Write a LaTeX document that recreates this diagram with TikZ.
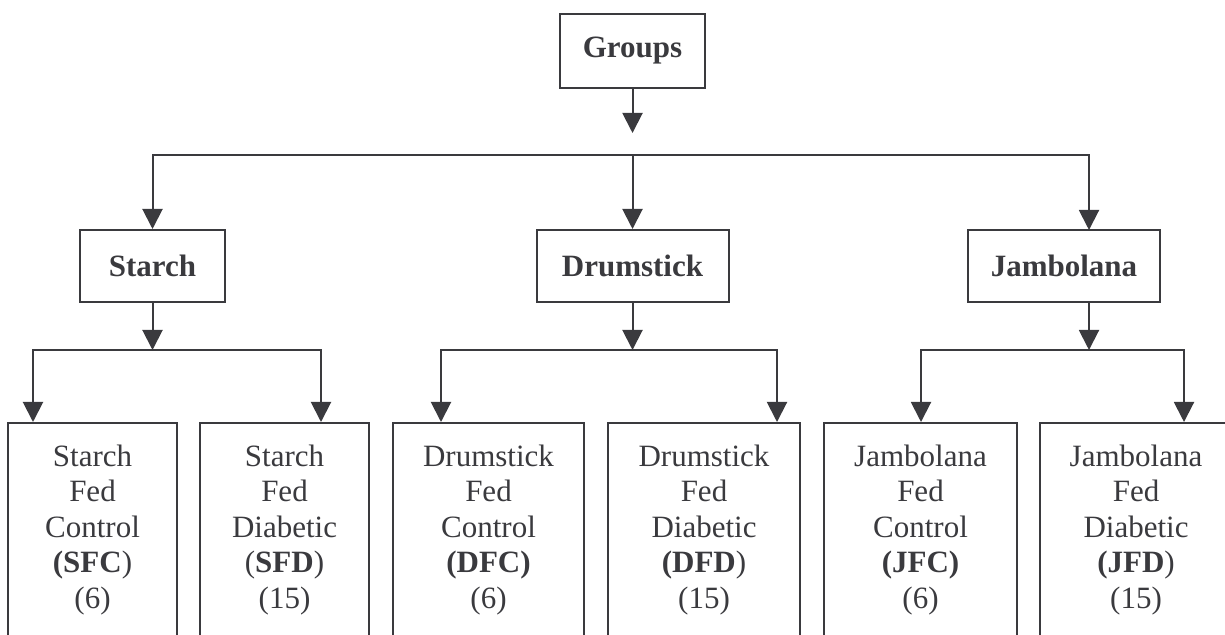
\documentclass[tikz,border=0pt]{standalone}
\usepackage{fontspec}
\setmainfont{Liberation Serif}
\usetikzlibrary{calc}
\usetikzlibrary{arrows.meta}
\definecolor{linegray}{RGB}{58,58,62}
\tikzstyle{groupbox}=[draw=linegray,line width=1pt,text=linegray,font=\fontsize{15.5}{18}\selectfont\bfseries,minimum height=36pt]
\tikzstyle{leafbox}=[draw=linegray,line width=1pt,text=linegray,align=center,anchor=north,minimum height=107pt,font=\fontsize{15.5}{17.75}\selectfont]
\tikzstyle{assign}=[-{Triangle[length=10pt,width=10pt]},draw=linegray,line width=1pt]
\tikzstyle{busline}=[draw=linegray,line width=1pt]
\newcommand{\branch}[3]{% Syntax: {bus point}{left end}{right end}
    \draw[assign] (#1) -| (#2);
    \draw[assign] (#1) -| (#3);
}

\begin{document}
\begin{tikzpicture}[x=0.5pt,y=-0.5pt]
  \useasboundingbox (0,0) rectangle (1225,635);
  \clip (0,0) rectangle (1225,635);
  % top level
  \node[groupbox,minimum width=72.5pt,minimum height=37pt] (groups) at (632.5,51) {Groups};
  \node[groupbox,minimum width=72.5pt] (starch) at (152.5,266) {Starch};
  \node[groupbox,minimum width=96pt] (drumstick) at (632.5,266) {Drumstick};
  \node[groupbox,minimum width=96pt] (jambolana) at (1064,266) {Jambolana};
  % leaves
  \node[leafbox,minimum width=84.5pt] (sfc) at (92.5,422) {Starch\\Fed\\Control\\\textbf{(SFC})\\(6)};
  \node[leafbox,minimum width=84.5pt] (sfd) at (284.5,422) {Starch\\Fed\\Diabetic\\(\textbf{SFD})\\(15)};
  \node[leafbox,minimum width=95.5pt] (dfc) at (488.5,422) {Drumstick\\Fed\\Control\\\textbf{(DFC)}\\(6)};
  \node[leafbox,minimum width=96pt] (dfd) at (704,422) {Drumstick\\Fed\\Diabetic\\\textbf{(DFD})\\(15)};
  \node[leafbox,minimum width=96.5pt] (jfc) at (920.5,422) {Jambolana\\Fed\\Control\\\textbf{(JFC)}\\(6)};
  \node[leafbox,minimum width=96pt] (jfd) at (1136,422) {Jambolana\\Fed\\Diabetic\\\textbf{(JFD})\\(15)};
  % bus points and arrow ends
  \coordinate (gtip) at (632.5,133);
  \coordinate (gbus) at (632.5,155);
  \coordinate (jtop) at (1089,230);
  \coordinate (jout) at (1089,302);
  \coordinate (sbus) at (152.5,350);
  \coordinate (dbus) at (632.5,350);
  \coordinate (jbus) at (1089,350);
  \coordinate (sfc in) at (33,422);
  \coordinate (sfd in) at (321,422);
  \coordinate (dfc in) at (441,422);
  \coordinate (dfd in) at (777,422);
  \coordinate (jfc in) at (921,422);
  \coordinate (jfd in) at (1184,422);
  % groups to the three feeds
  \draw[assign] (groups.south) -- (gtip);
  \draw[assign] (gbus) -| (starch.north);
  \draw[assign] (gbus) -- (drumstick.north);
  \draw[assign] (gbus) -| (jtop);
  % feeds to control / diabetic
  \draw[assign] (starch.south) -- (sbus);
  \branch{sbus}{sfc in}{sfd in}
  \draw[assign] (drumstick.south) -- (dbus);
  \branch{dbus}{dfc in}{dfd in}
  \draw[assign] (jout) -- (jbus);
  \branch{jbus}{jfc in}{jfd in}
\end{tikzpicture}
\end{document}
